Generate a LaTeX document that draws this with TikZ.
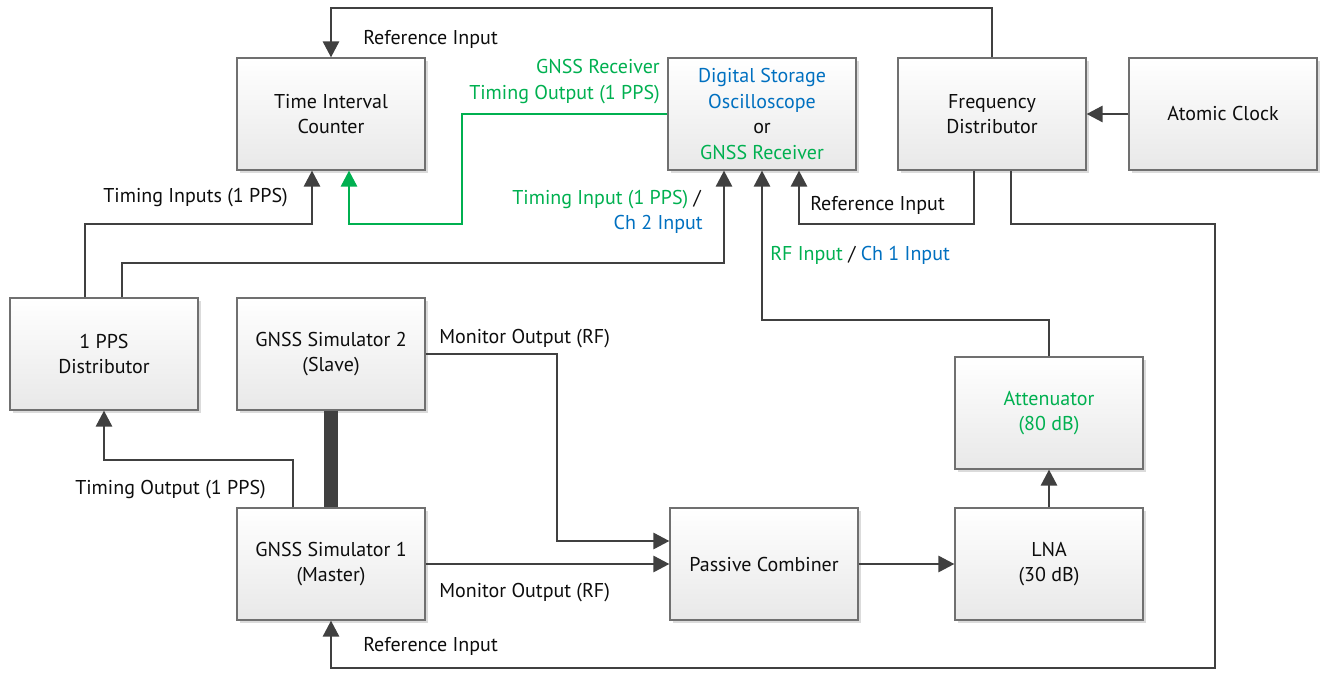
\documentclass[tikz,border=0pt]{standalone}
\usepackage{fontspec}
\setmainfont{PT Sans}
\usetikzlibrary{arrows.meta,shadows}
\definecolor{gr}{HTML}{00B050}
\definecolor{bl}{HTML}{0070C0}
\definecolor{ln}{HTML}{404040}
\definecolor{bd}{HTML}{707070}
\begin{document}
\begin{tikzpicture}[x=0.75pt,y=-0.75pt,
  box/.style={draw=bd, line width=0.9pt, top color=white, bottom color=black!9,
    minimum width=141pt, minimum height=84pt, align=center, inner sep=2pt,
    font=\fontsize{15}{19.2}\selectfont, text=black!95,
    drop shadow={shadow xshift=2.2pt, shadow yshift=-2.2pt, fill=black!20, opacity=0.7}},
  conn/.style={draw=ln, line width=2.1pt, -{Triangle[length=12pt,width=12pt]}},
  lbl/.style={font=\fontsize{15}{19}\selectfont, inner sep=0pt, text=black!95}]
\useasboundingbox (0,0) rectangle (1327,677);

% boxes
\node[box] (TIC) at (331,114) {Time Interval\\Counter};
\node[box] (DSO) at (762,114) {\color{bl}Digital Storage\\\color{bl}Oscilloscope\\or\\\color{gr}GNSS Receiver};
\node[box] (FD)  at (992,114) {Frequency\\Distributor};
\node[box] (AC)  at (1223,114) {Atomic Clock};
\node[box] (PPS) at (104,354) {1 PPS\\Distributor};
\node[box] (S2)  at (331,354) {GNSS Simulator 2\\(Slave)};
\node[box] (ATT) at (1049,413) {\color{gr}Attenuator\\\color{gr}(80 dB)};
\node[box] (S1)  at (331,564) {GNSS Simulator 1\\(Master)};
\node[box] (PC)  at (764,564) {Passive Combiner};
\node[box] (LNA) at (1049,564) {LNA\\(30 dB)};

% helper coordinates
\coordinate (cT) at (600,8);
\coordinate (c224a) at (200,224);
\coordinate (c263) at (400,263);
\coordinate (g1) at (462,224);
\coordinate (c224b) at (900,224);
\coordinate (cR1) at (1215,224);
\coordinate (cR2) at (1215,668);
\coordinate (cTO) at (200,460);
\coordinate (cM) at (557,480);
\coordinate (cA) at (900,320);

% connectors
\draw[conn] (FD.north) |- (cT) -| (TIC.north);
\draw[conn] (AC.west) -- (FD.east);
\draw[conn] ([xshift=-13.5pt]FD.south) |- (c224b) -| ([xshift=27.75pt]DSO.south);
\draw[conn] ([xshift=14.25pt]FD.south) |- (cR1) -- (cR2) -| (S1.south);
\draw[conn, draw=gr] (DSO.west) -| (g1) -| ([xshift=13.5pt]TIC.south);
\draw[conn] ([xshift=-14.25pt]PPS.north) |- (c224a) -| ([xshift=-14.25pt]TIC.south);
\draw[conn] ([xshift=13.5pt]PPS.north) |- (c263) -| ([xshift=-28.5pt]DSO.south);
\draw[conn] ([xshift=-28.5pt]S1.north) |- (cTO) -| (PPS.south);
\draw[draw=ln, line width=11pt] (S2.south) -- (S1.north);
\draw[conn] (S2.east) -| (cM) |- ([yshift=17.25pt]PC.west);
\draw[conn] (S1.east) -- (PC.west);
\draw[conn] (PC.east) -- (LNA.west);
\draw[conn] (LNA.north) -- (ATT.south);
\draw[conn] (ATT.north) |- (cA) -| (DSO.south);

% labels
\node[lbl, anchor=base west] (l1) at (363,45) {Reference Input};
\node[lbl, anchor=base east, text=gr] (l2) at (660,74) {GNSS Receiver};
\node[lbl, anchor=base east, text=gr] (l3) at (660,100) {Timing Output (1 PPS)};
\node[lbl, anchor=base east] (l4) at (288,203) {Timing Inputs (1 PPS)};
\node[lbl, anchor=base east] (l5) at (701,205) {\textcolor{gr}{Timing Input (1 PPS)} /};
\node[lbl, anchor=base east, text=bl] (l6) at (703,230) {Ch 2 Input};
\node[lbl, anchor=base west] (l7) at (810,211) {Reference Input};
\node[lbl, anchor=base west] (l8) at (770,261) {\textcolor{gr}{RF Input} / \textcolor{bl}{Ch 1 Input}};
\node[lbl, anchor=base west] (l9) at (439,343) {Monitor Output (RF)};
\node[lbl, anchor=base east] (l10) at (266,494) {Timing Output (1 PPS)};
\node[lbl, anchor=base west] (l11) at (439,597) {Monitor Output (RF)};
\node[lbl, anchor=base west] (l12) at (363,651) {Reference Input};
\end{tikzpicture}
\end{document}
